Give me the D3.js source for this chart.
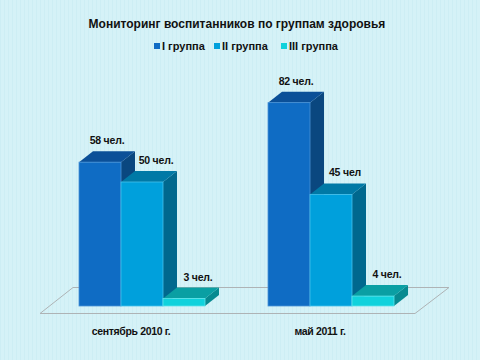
<!DOCTYPE html>
<html><head><meta charset="utf-8">
<script src="https://cdn.jsdelivr.net/npm/d3@7/dist/d3.min.js"></script>
<style>html,body{margin:0;padding:0;background:#d5f2f7;}svg{display:block;}</style>
</head><body>
<script>
const categories = ["сентябрь 2010 г.", "май 2011 г."];
const seriesNames = ["I группа", "II группа", "III группа"];
const group1 = [58, 82];
const group2 = [50, 45];
const group3 = [3, 4];
const labels1 = ["58 чел.", "82 чел."];
const labels2 = ["50 чел.", "45 чел"];
const labels3 = ["3 чел.", "4 чел."];
const title = "Мониторинг воспитанников по группам здоровья";

const values = [group1, group2, group3];
const valueLabels = [labels1, labels2, labels3];
const colors = [
  {front:"#0f6cc4", top:"#0b5098", side:"#0a477f", edge:"#4a94d8"},
  {front:"#00a0dc", top:"#0079a6", side:"#00688e", edge:"#45c0ea"},
  {front:"#10d2dc", top:"#0a9fa3", side:"#078a90", edge:"#60e4ea"}
];

const W = 480, H = 360;
const svg = d3.select("body").append("svg").attr("width", W).attr("height", H);

const defs = svg.append("defs");
const pat = defs.append("pattern").attr("id","stripes").attr("width",4).attr("height",4).attr("patternUnits","userSpaceOnUse");
pat.append("rect").attr("width",4).attr("height",4).attr("fill","#d5f2f7");
pat.append("rect").attr("width",1).attr("height",4).attr("fill","#cdeef4");
svg.append("rect").attr("width",W).attr("height",H).attr("fill","url(#stripes)");

const font = "'Liberation Sans', Arial, sans-serif";

svg.append("text").attr("x", 237).attr("y", 28).attr("text-anchor","middle")
  .attr("font-family", font).attr("font-weight","bold").attr("font-size", 12)
  .attr("fill","#111").text(title);

const legendX = [154, 214, 281];
seriesNames.forEach((s,i)=>{
  const g = svg.append("g").attr("transform",`translate(${legendX[i]},46)`);
  g.append("rect").attr("x",0).attr("y",-3).attr("width",6).attr("height",6).attr("fill",colors[i].front);
  g.append("text").attr("x",8).attr("y",4).attr("font-family",font).attr("font-weight","bold")
   .attr("font-size",11).attr("fill","#111").text(s);
});

const baseY = 306;
const y = d3.scaleLinear().domain([0, 90]).range([baseY, baseY - 90*2.48]);
const x0 = d3.scaleBand().domain(categories).range([47.5, 425.5]);
const groupW = 126;
const x1 = d3.scaleBand().domain(seriesNames).range([0, groupW]);
const dx = 14, dy = -11;

const floor = svg.append("g").attr("fill","none").attr("stroke","#aeb3b5").attr("stroke-width",1);
floor.append("path").attr("d","M40,313.5 L415,313.5 L449,287.5 L73,287.5 Z");

const chart = svg.append("g");
const labelLayer = svg.append("g");
categories.forEach((c, ci)=>{
  const gx = x0(c) + (x0.bandwidth() - groupW)/2;
  seriesNames.forEach((s, si)=>{
    const v = values[si][ci];
    const xl = gx + x1(s), w = x1.bandwidth();
    const yt = y(v), yb = y(0);
    const col = colors[si];
    chart.append("path").attr("d",`M${xl+w},${yt} L${xl+w+dx},${yt+dy} L${xl+w+dx},${yb+dy} L${xl+w},${yb} Z`)
      .attr("fill",col.side);
    chart.append("path").attr("d",`M${xl},${yt} L${xl+dx},${yt+dy} L${xl+w+dx},${yt+dy} L${xl+w},${yt} Z`)
      .attr("fill",col.top);
    chart.append("rect").attr("x",xl).attr("y",yt).attr("width",w).attr("height",yb-yt)
      .attr("fill",col.front).attr("stroke",col.edge).attr("stroke-width",0.8);
    const shift = si === 0 ? 0 : 7;
    labelLayer.append("text").attr("x", xl + w/2 + dx/2 + shift).attr("y", yt + dy - 7)
      .attr("text-anchor","middle").attr("font-family",font).attr("font-weight","bold")
      .attr("font-size",10.5).attr("letter-spacing",-0.2).attr("fill","#111").text(valueLabels[si][ci]);
  });
  svg.append("text").attr("x", gx + groupW/2 - 11).attr("y", 335).attr("text-anchor","middle")
    .attr("font-family",font).attr("font-weight","bold").attr("font-size",10.5)
    .attr("letter-spacing",-0.35).attr("fill","#111").text(c);
});
</script>
</body></html>
